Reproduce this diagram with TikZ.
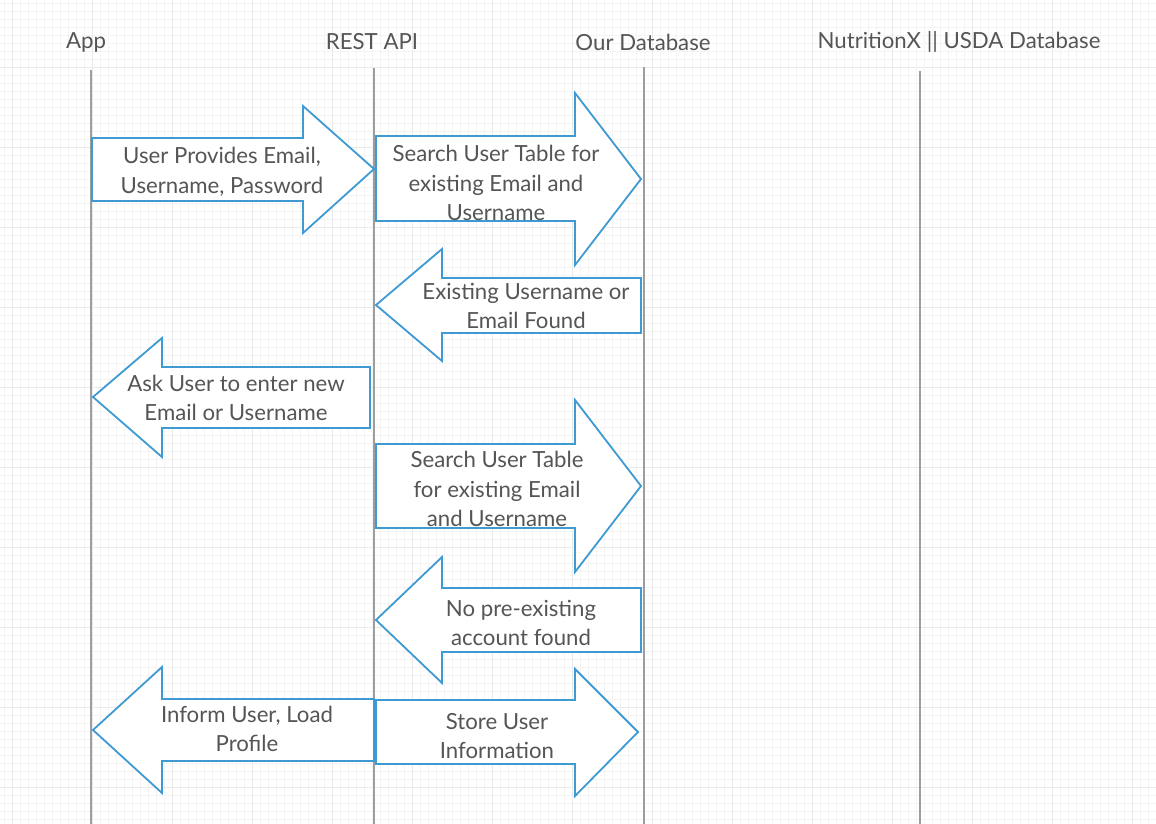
\documentclass[tikz,border=0pt]{standalone}
\usepackage{fontspec}
\setmainfont{Lato}
\definecolor{arrowblue}{HTML}{3E9AD2}
\definecolor{txtgray}{HTML}{555555}
\definecolor{lifegray}{HTML}{9E9E9E}
\definecolor{gridminor}{HTML}{F4F4F4}
\definecolor{gridmajor}{HTML}{EAEAEA}
\tikzset{
  blk/.style={draw=arrowblue, line width=1.8pt, fill=white, line join=miter},
  lbl/.style={text=txtgray, align=center, font=\fontsize{22.2}{29.5}\selectfont, inner sep=0pt},
  head/.style={text=txtgray, font=\fontsize{22.2}{26}\selectfont, inner sep=0pt},
  life/.style={draw=lifegray, line width=2.6pt}
}
\begin{document}
\begin{tikzpicture}[x=1pt,y=-1pt]
\useasboundingbox (0,0) rectangle (1156,824);
\fill[white] (0,0) rectangle (1156,824);
% grid
\foreach \i in {0,...,145} {\draw[gridminor, line width=0.6pt] (\i*8-4,0) -- (\i*8-4,824);}
\foreach \i in {0,...,103} {\draw[gridminor, line width=0.6pt] (0,\i*8+3) -- (1156,\i*8+3);}
\foreach \i in {0,...,14} {\draw[gridmajor, line width=0.8pt] (\i*80+12,0) -- (\i*80+12,824);}
\foreach \i in {0,...,10} {\draw[gridmajor, line width=0.8pt] (0,\i*80-13) -- (1156,\i*80-13);}
% headers
\node[head] (hApp) at (86,42) {App};
\node[head] (hRest) at (372,42) {REST API};
\node[head] (hDb) at (643,42) {Our Database};
\node[head] (hNut) at (959,42) {NutritionX || USDA Database};
% lifelines
\coordinate (appTop) at (91,70); \coordinate (appBot) at (91,824);
\coordinate (restTop) at (374,68); \coordinate (restBot) at (374,824);
\coordinate (dbTop) at (644,67); \coordinate (dbBot) at (644,824);
\coordinate (nutTop) at (920,71); \coordinate (nutBot) at (920,824);
\draw[life] (appTop) -- (appBot);
\draw[life] (restTop) -- (restBot);
\draw[life] (dbTop) -- (dbBot);
\draw[life] (nutTop) -- (nutBot);
% 1 right
\draw[blk] (92,138) -- (303,138) -- (303,106) -- (374,169) -- (303,233) -- (303,201) -- (92,201) -- cycle;
\node[lbl] (t1) at (222,172) {User Provides Email,\\Username, Password};
% 2 right
\draw[blk] (376,136) -- (575,136) -- (575,93) -- (641,179) -- (575,265) -- (575,221) -- (376,221) -- cycle;
\node[lbl] (t2) at (496,183) {Search User Table for\\existing Email and\\Username};
% 3 left
\draw[blk] (641,278) -- (442,278) -- (442,249) -- (376,305) -- (442,361) -- (442,333) -- (641,333) -- cycle;
\node[lbl] (t3) at (526,306) {Existing Username or\\Email Found};
% 4 left
\draw[blk] (370,367) -- (162,367) -- (162,338) -- (93,397) -- (162,457) -- (162,428) -- (370,428) -- cycle;
\node[lbl] (t4) at (236,398) {Ask User to enter new\\Email or Username};
% 5 right
\draw[blk] (376,444) -- (575,444) -- (575,400) -- (641,486) -- (575,572) -- (575,528) -- (376,528) -- cycle;
\node[lbl] (t5) at (497,489) {Search User Table\\for existing Email\\and Username};
% 6 left
\draw[blk] (641,588) -- (442,588) -- (442,557) -- (376,620) -- (442,683) -- (442,652) -- (641,652) -- cycle;
\node[lbl] (t6) at (521,623) {No pre-existing\\account found};
% 7 left
\draw[blk] (374,699) -- (162,699) -- (162,667) -- (93,730) -- (162,793) -- (162,761) -- (374,761) -- cycle;
\node[lbl] (t7) at (247,729) {Inform User, Load\\Profile};
% 8 right
\draw[blk] (376,700) -- (575,700) -- (575,669) -- (638,732) -- (575,796) -- (575,764) -- (376,764) -- cycle;
\node[lbl] (t8) at (497,736) {Store User\\Information};
\end{tikzpicture}
\end{document}
